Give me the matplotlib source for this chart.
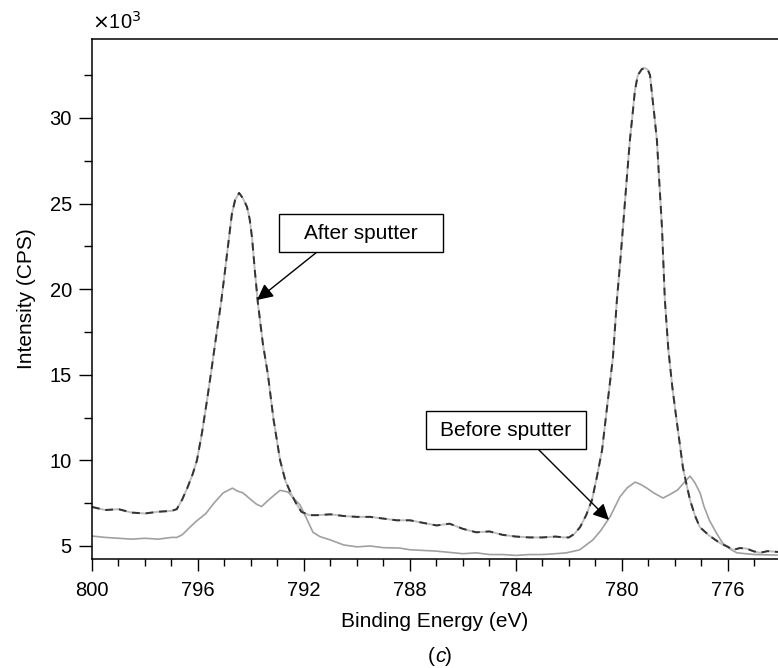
import matplotlib
matplotlib.use("Agg")
import matplotlib.pyplot as plt
from matplotlib.patches import Rectangle
from matplotlib.ticker import MultipleLocator

plt.rcParams['font.family'] = ['Liberation Sans', 'DejaVu Sans']

# Binding energy (eV) and intensity (CPS, x10^3)
after_x = [800, 799.5, 799, 798.5, 798, 797.5, 797, 796.8, 796.6, 796.4, 796.2, 796.04,
           795.85, 795.66, 795.5, 795.3, 795.13, 794.97, 794.83, 794.72, 794.6, 794.45,
           794.3, 794.15, 794.05, 793.96, 793.85, 793.74, 793.55, 793.36, 793.15, 792.9,
           792.7, 792.5, 792.3, 792.1, 791.8, 791.5, 791, 790.5, 790, 789.5, 789, 788.5,
           788, 787.5, 787, 786.5, 786, 785.5, 785, 784.5, 784, 783.5, 783, 782.5, 782.2,
           782.0, 781.8, 781.58, 781.35, 781.13, 780.95, 780.75, 780.53, 780.34, 780.19,
           780.07, 779.96, 779.83, 779.7, 779.6, 779.51, 779.4, 779.25, 779.13, 779.02,
           778.94, 778.87, 778.78, 778.68, 778.58, 778.49, 778.38, 778.25, 778.1, 777.95,
           777.82, 777.7, 777.55, 777.43, 777.25, 777.06, 776.7, 776.3, 776.0, 775.8,
           775.55, 775.3, 775.05, 774.8, 774.5, 774.1]
after_y = [7.28, 7.1, 7.15, 6.95, 6.9, 7.0, 7.05, 7.15, 7.7, 8.4, 9.2, 10.0,
           11.6, 13.5, 15.2, 17.4, 19.2, 21.2, 23.0, 24.4, 25.2, 25.62,
           25.3, 24.8, 24.1, 23.0, 21.0, 19.2, 16.8, 15.0, 12.4, 10.0,
           8.8, 8.1, 7.5, 7.0, 6.8, 6.8, 6.85, 6.75, 6.7, 6.7, 6.6, 6.5,
           6.5, 6.35, 6.2, 6.3, 6.0, 5.8, 5.85, 5.65, 5.55, 5.5, 5.5, 5.55, 5.5,
           5.5, 5.7, 6.1, 6.8, 7.69, 9.0, 10.6, 13.53, 16.0, 19.37,
           21.5, 23.63, 26.2, 28.7, 30.2, 31.6, 32.5, 32.85, 32.92, 32.8,
           32.5, 31.46, 30.2, 28.7, 26.0, 23.63, 19.37, 16.5, 14.3, 12.5,
           11.0, 9.6, 8.5, 7.69, 6.8, 6.1, 5.6, 5.17, 4.95, 4.77,
           4.88, 4.85, 4.7, 4.6, 4.7, 4.65]

before_x = [800, 799.5, 799, 798.5, 798, 797.5, 797, 796.8, 796.6, 796.4, 796.1, 795.7,
            795.4, 795.05, 794.7, 794.5, 794.3, 794.0, 793.8, 793.6, 793.4, 793.1, 792.9,
            792.6, 792.4, 792.15, 791.9, 791.66, 791.4, 791.0, 790.5, 790, 789.5, 789,
            788.4, 788, 787, 786, 785.5, 785, 784.5, 784, 783.5, 783, 782.5, 782.1,
            781.6, 781.1, 780.8, 780.45, 780.08, 779.8, 779.5, 779.3, 779.06, 778.8,
            778.45, 778.2, 777.9, 777.6, 777.43, 777.25, 777.05, 776.9, 776.7, 776.45,
            776.2, 775.9, 775.66, 775, 774.15]
before_y = [5.58, 5.5, 5.45, 5.4, 5.45, 5.4, 5.5, 5.5, 5.65, 5.95, 6.4, 6.9,
            7.5, 8.1, 8.38, 8.2, 8.1, 7.7, 7.45, 7.3, 7.6, 8.0, 8.25,
            8.15, 7.8, 7.4, 6.6, 5.8, 5.55, 5.35, 5.06, 4.95, 5.0, 4.9,
            4.88, 4.78, 4.7, 4.55, 4.6, 4.5, 4.5, 4.45, 4.5, 4.5, 4.55, 4.6,
            4.77, 5.35, 5.9, 6.7, 7.86, 8.4, 8.73, 8.6, 8.38, 8.1,
            7.8, 8.0, 8.27, 8.8, 9.08, 8.7, 8.1, 7.3, 6.5, 5.8,
            5.17, 4.8, 4.6, 4.5, 4.47]

x_ticks = [800, 796, 792, 788, 784, 780, 776]
y_ticks = [5, 10, 15, 20, 25, 30]

W, H = 778, 668
fig = plt.figure(figsize=(W / 100, H / 100), dpi=100)
ax = fig.add_axes([92 / W, 1 - 559 / H, 1 - 92 / W, (559 - 39) / H])

ax.plot(before_x, before_y, color='#a0a0a0', lw=1.2)
ax.plot(after_x, after_y, color='#bdbdbd', lw=1.4)
ax.plot(after_x, after_y, color='#333333', lw=1.4, dashes=(4, 3))

ax.set_xlim(800, 774.11)
ax.set_ylim(4.24, 34.61)
ax.set_xticks(x_ticks)
ax.set_yticks(y_ticks)
ax.xaxis.set_minor_locator(MultipleLocator(1))
ax.yaxis.set_minor_locator(MultipleLocator(2.5))
ax.tick_params(which='major', direction='out', length=9.5, width=1.0, labelsize=14.5, pad=5)
ax.tick_params(which='minor', direction='out', length=5.5, width=1.0)
ax.tick_params(axis='x', which='major', length=8.5, pad=7)
ax.tick_params(axis='x', which='minor', length=5)
ax.spines['right'].set_visible(False)
for s in ['left', 'bottom', 'top']:
    ax.spines[s].set_linewidth(1.1)

ax.set_xlabel('Binding Energy (eV)', fontsize=15, labelpad=9)
ax.set_ylabel('Intensity (CPS)', fontsize=15, labelpad=10)

fig.text(92 / W, 1 - 22 / H, r'$\times$10$^3$', fontsize=14.5, ha='left', va='center')
fig.text(435 / W, 1 - 656 / H, '(', fontsize=15, ha='right', va='center')
fig.text(435 / W, 1 - 656 / H, 'c', fontsize=15, ha='left', va='center', style='italic')
fig.text(445 / W, 1 - 656 / H, ')', fontsize=15, ha='left', va='center')

# annotation boxes (pixel layout)
def box(x0, y0, x1, y1, label):
    r = Rectangle((x0 / W, 1 - y1 / H), (x1 - x0) / W, (y1 - y0) / H,
                  transform=fig.transFigure, fill=True, facecolor='white',
                  edgecolor='black', lw=1.0, zorder=5)
    fig.add_artist(r)
    fig.text((x0 + x1) / 2 / W, 1 - (y0 + y1) / 2 / H, label, fontsize=15,
             ha='center', va='center', zorder=6)

box(279, 214, 443, 252, 'After sputter')
box(426, 411, 586, 449, 'Before sputter')

arrow = dict(arrowstyle='-|>', mutation_scale=24, lw=1.0, color='black',
             shrinkA=0, shrinkB=0)
ax.annotate('', xy=(793.77, 19.37), xycoords='data',
            xytext=(317 / W, 1 - 252 / H), textcoords='figure fraction',
            arrowprops=arrow)
ax.annotate('', xy=(780.49, 6.52), xycoords='data',
            xytext=(538 / W, 1 - 449 / H), textcoords='figure fraction',
            arrowprops=arrow)

fig.savefig('out.png', dpi=100)
